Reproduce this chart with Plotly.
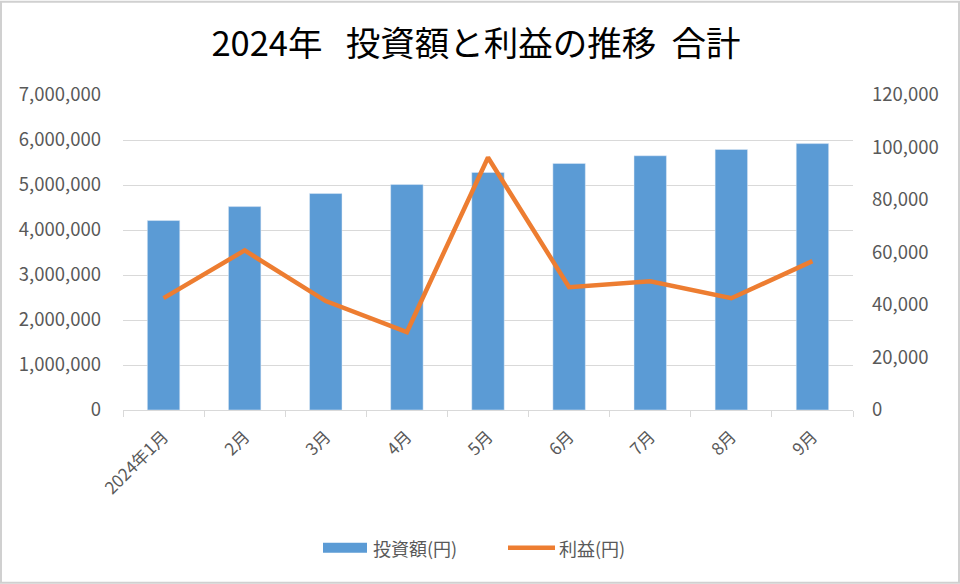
import plotly.graph_objects as go

categories = ["2024年1月", "2月", "3月", "4月", "5月", "6月", "7月", "8月", "9月"]
investment = [4210000, 4520000, 4810000, 5010000, 5280000, 5480000, 5650000, 5790000, 5920000]
profit = [42600, 60800, 41500, 29700, 96200, 46800, 49000, 42600, 56700]
left_ticks = [0, 1000000, 2000000, 3000000, 4000000, 5000000, 6000000, 7000000]
right_ticks = [0, 20000, 40000, 60000, 80000, 100000, 120000]
series_names = ["投資額(円)", "利益(円)"]

W, H = 960, 584
L, R, T, B = 123, 107, 94.5, 174
pw, ph = W - L - R, H - T - B

font_family = "Noto Sans CJK JP"
gray = "#595959"
blue = "#5B9BD5"
orange = "#ED7D31"


def px_x(p):
    return (p - L) / pw


def px_y(p):
    return (H - B - p) / ph


fig = go.Figure()
fig.add_trace(go.Bar(x=categories, y=investment, name=series_names[0],
                     marker=dict(color=blue), yaxis="y"))
fig.add_trace(go.Scatter(x=categories, y=profit, name=series_names[1], mode="lines",
                         line=dict(color=orange, width=4.5), yaxis="y2"))

shapes = [
    dict(type="rect", xref="paper", yref="paper",
         x0=px_x(1), x1=px_x(W - 1), y0=px_y(H - 1), y1=px_y(1),
         line=dict(color="#D0D0D0", width=2), fillcolor="rgba(0,0,0,0)",
         layer="below"),
    # legend swatches
    dict(type="rect", xref="paper", yref="paper",
         x0=px_x(323), x1=px_x(367), y0=px_y(553), y1=px_y(543),
         line=dict(width=0), fillcolor=blue),
    dict(type="line", xref="paper", yref="paper",
         x0=px_x(508), x1=px_x(555), y0=px_y(548), y1=px_y(548),
         line=dict(color=orange, width=4.5)),
]
annotations = [
    dict(text=series_names[0], xref="paper", yref="paper", x=px_x(371), y=px_y(548),
         xanchor="left", yanchor="middle", showarrow=False,
         font=dict(family=font_family, size=18, color=gray)),
    dict(text=series_names[1], xref="paper", yref="paper", x=px_x(557), y=px_y(548),
         xanchor="left", yanchor="middle", showarrow=False,
         font=dict(family=font_family, size=18, color=gray)),
]

fig.update_layout(
    width=W, height=H,
    margin=dict(l=L, r=R, t=T, b=B),
    paper_bgcolor="white", plot_bgcolor="white",
    font=dict(family=font_family, size=18, color=gray),
    title=dict(text="2024年   投資額と利益の推移  合計",
               x=476 / W, xanchor="center", y=1 - 44 / H, yanchor="middle",
               font=dict(family=font_family, size=34.5, color="#000000")),
    bargap=0.6,
    showlegend=False,
    xaxis=dict(type="category", tickangle=-45, tickson="boundaries",
               ticks="outside", ticklen=6, tickcolor="#D9D9D9",
               showline=True, linecolor="#D9D9D9", linewidth=1,
               showgrid=False, ticklabelstandoff=9,
               tickfont=dict(size=17, color=gray)),
    yaxis=dict(range=[0, 7000000], tickvals=left_ticks,
               ticktext=[f"{v:,}" for v in left_ticks],
               showgrid=True, gridcolor="#D9D9D9", gridwidth=1,
               zeroline=False, showline=False, ticklabelstandoff=21,
               tickfont=dict(size=18.5, color=gray)),
    yaxis2=dict(range=[0, 120000], tickvals=right_ticks,
                ticktext=[f"{v:,}" for v in right_ticks],
                overlaying="y", side="right", showgrid=False,
                zeroline=False, showline=False, ticklabelstandoff=18,
                tickfont=dict(size=18.5, color=gray)),
    shapes=shapes,
    annotations=annotations,
)

fig.write_html("out.html")
